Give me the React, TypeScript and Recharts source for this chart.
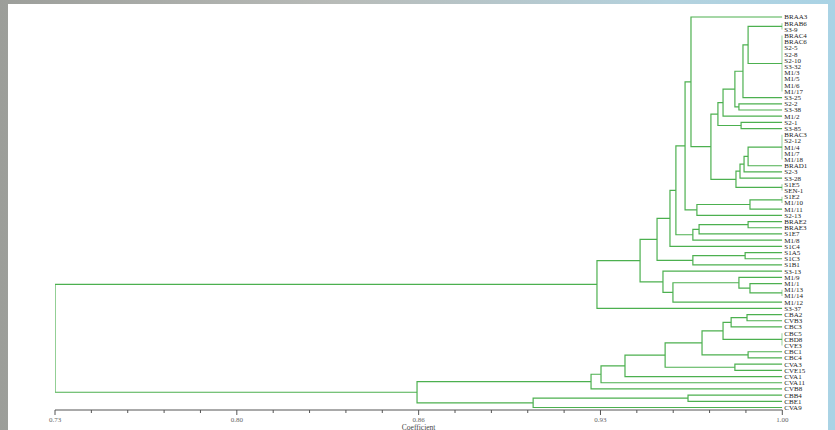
import React from 'react';
import { ComposedChart, Line, XAxis, YAxis } from 'recharts';

// Leaves, top to bottom
const leafLabels: string[] = [
  'BRAA3', 'BRAB6', 'S3-9', 'BRAC4', 'BRAC6', 'S2-5', 'S2-8', 'S2-10', 'S3-32', 'M1/3',
  'M1/5', 'M1/6', 'M1/17', 'S3-25', 'S2-2', 'S3-38', 'M1/2', 'S2-1', 'S3-85', 'BRAC3',
  'S2-12', 'M1/4', 'M1/7', 'M1/18', 'BRAD1', 'S2-3', 'S3-28', 'S1E5', 'SEN-1', 'S1E2',
  'M1/10', 'M1/11', 'S2-13', 'BRAE2', 'BRAE3', 'S1E7', 'M1/8', 'S1C4', 'S1A5', 'S1C3',
  'S1B1', 'S3-13', 'M1/9', 'M1/1', 'M1/13', 'M1/14', 'M1/12', 'S3-37', 'CBA2', 'CVB3',
  'CBC3', 'CBC5', 'CBD8', 'CVE3', 'CBC1', 'CBC4', 'CVA3', 'CVE15', 'CVA1', 'CVA11',
  'CVB8', 'CBB4', 'CBE1', 'CVA9',
];

// Cluster merges: [node id, members (leaf labels or node ids), similarity coefficient]
const merges: [string, string[], number][] = [
  ['n1', ['BRAB6', 'S3-9'], 1.0],
  ['n2', ['BRAC4', 'BRAC6', 'S2-5', 'S2-8', 'S2-10', 'S3-32', 'M1/3', 'M1/5', 'M1/6', 'M1/17'], 1.0],
  ['n3', ['n1', 'n2'], 0.9873],
  ['n4', ['n3', 'S3-25'], 0.9854],
  ['n5', ['S2-2', 'S3-38'], 0.9839],
  ['n6', ['n4', 'n5'], 0.9824],
  ['n7', ['n6', 'M1/2'], 0.978],
  ['n8', ['S2-1', 'S3-85'], 0.9847],
  ['n9', ['n7', 'n8'], 0.9761],
  ['n10', ['BRAC3', 'S2-12', 'M1/4', 'M1/7', 'M1/18'], 1.0],
  ['n11', ['n10', 'BRAD1'], 0.9873],
  ['n12', ['n11', 'S2-3'], 0.9858],
  ['n13', ['n12', 'S3-28'], 0.9843],
  ['n14', ['S1E5', 'SEN-1'], 1.0],
  ['n15', ['n13', 'n14'], 0.9828],
  ['n16', ['n9', 'n15'], 0.9735],
  ['n17', ['BRAA3', 'n16'], 0.9661],
  ['n18', ['S1E2', 'M1/10'], 1.0],
  ['n19', ['n18', 'M1/11'], 0.988],
  ['n20', ['n19', 'S2-13'], 0.9683],
  ['n21', ['n17', 'n20'], 0.9639],
  ['n22', ['BRAE2', 'BRAE3'], 0.9873],
  ['n23', ['n22', 'S1E7'], 0.9691],
  ['n24', ['n23', 'M1/8'], 0.9668],
  ['n25', ['n21', 'n24'], 0.9605],
  ['n26', ['n25', 'S1C4'], 0.9583],
  ['n27', ['S1A5', 'S1C3'], 0.9862],
  ['n28', ['n27', 'S1B1'], 0.9668],
  ['n29', ['n26', 'n28'], 0.9535],
  ['n30', ['M1/13', 'M1/14'], 1.0],
  ['n31', ['M1/1', 'n30'], 0.988],
  ['n32', ['M1/9', 'n31'], 0.9839],
  ['n33', ['n32', 'M1/12'], 0.9594],
  ['n34', ['S3-13', 'n33'], 0.9557],
  ['n35', ['n29', 'n34'], 0.9472],
  ['n36', ['n35', 'S3-37'], 0.9312],
  ['n37', ['CBA2', 'CVB3'], 0.9869],
  ['n38', ['n37', 'CBC3'], 0.981],
  ['n39', ['CBC5', 'CBD8', 'CVE3'], 1.0],
  ['n40', ['n38', 'n39'], 0.978],
  ['n41', ['CBC1', 'CBC4'], 0.9873],
  ['n42', ['n40', 'n41'], 0.9702],
  ['n43', ['CVA3', 'CVE15'], 0.9824],
  ['n44', ['n42', 'n43'], 0.9565],
  ['n45', ['n44', 'CVA1'], 0.9416],
  ['n46', ['n45', 'CVA11'], 0.9327],
  ['n47', ['n46', 'CVB8'], 0.929],
  ['n48', ['CBB4', 'CBE1'], 0.965],
  ['n49', ['n48', 'CVA9'], 0.9075],
  ['n50', ['n47', 'n49'], 0.8644],
  ['root', ['n36', 'n50'], 0.73],
];

const majorTicks: number[] = [0.73, 0.7975, 0.865, 0.9325, 1.0];
const majorTickLabels: string[] = ['0.73', '0.80', '0.86', '0.93', '1.00'];
const minorPerMajor = 5;

const LINE_COLOR = '#4cb04f';
const TEXT_FONT = '"Liberation Serif", "DejaVu Serif", serif';

type Pos = { x: number; y: number };

function buildLinks(): Pos[][] {
  const pos: Record<string, Pos> = {};
  leafLabels.forEach((l, i) => {
    pos[l] = { x: 1.0, y: i + 1 };
  });
  const links: Pos[][] = [];
  merges.forEach(([id, kids, h]) => {
    const first = pos[kids[0]];
    const last = pos[kids[kids.length - 1]];
    links.push([
      { x: first.x, y: first.y },
      { x: h, y: first.y },
      { x: h, y: last.y },
      { x: last.x, y: last.y },
    ]);
    kids.slice(1, -1).forEach((k) => {
      const p = pos[k];
      if (p.x !== h) links.push([{ x: p.x, y: p.y }, { x: h, y: p.y }]);
    });
    pos[id] = { x: h, y: (first.y + last.y) / 2 };
  });
  return links;
}

const links = buildLinks();

const allTicks: number[] = (() => {
  const t: number[] = [];
  for (let i = 0; i < majorTicks.length - 1; i++) {
    const a = majorTicks[i];
    const b = majorTicks[i + 1];
    for (let k = 0; k < minorPerMajor; k++) t.push(a + ((b - a) * k) / minorPerMajor);
  }
  t.push(majorTicks[majorTicks.length - 1]);
  return t;
})();

const AxisTick = (props: any) => {
  const { x, y, payload } = props;
  const idx = majorTicks.findIndex((m) => Math.abs(m - payload.value) < 1e-6);
  const major = idx >= 0;
  return (
    <g>
      <line x1={x} x2={x} y1={y} y2={y + (major ? 5 : 3)} stroke="#555" strokeWidth={1} />
      {major && (
        <text x={x} y={y + 12} textAnchor="middle" fontSize={7} fill="#666" fontFamily={TEXT_FONT}>
          {majorTickLabels[idx]}
        </text>
      )}
    </g>
  );
};

export default function App() {
  return (
    <div
      style={{
        position: 'absolute',
        left: 0,
        top: 0,
        width: 835,
        height: 430,
        overflow: 'hidden',
        background: 'linear-gradient(90deg, #9c9e9a 0%, #b8bbb8 40%, #b4d2de 80%, #a9d3e5 100%)',
      }}
    >
      <div
        style={{
          position: 'absolute',
          left: 8,
          top: 4,
          width: 820,
          height: 426,
          background: '#ffffff',
        }}
      />
      <div style={{ position: 'absolute', left: 0, top: 0 }}>
        <ComposedChart
          width={835}
          height={430}
          margin={{ top: 10.8, right: 0, bottom: 0, left: 55 }}
        >
          <XAxis
            type="number"
            dataKey="x"
            domain={[0.73, 1.0]}
            allowDataOverflow
            ticks={allTicks}
            interval={0}
            tick={<AxisTick />}
            tickLine={false}
            tickSize={0}
            tickMargin={0}
            height={20}
            axisLine={{ stroke: '#555', strokeWidth: 1 }}
            label={{
              value: 'Coefficient',
              position: 'insideBottom',
              offset: 0.5,
              fontSize: 7.5,
              fill: '#444',
              fontFamily: TEXT_FONT,
            }}
          />
          <YAxis
            type="number"
            orientation="right"
            domain={[0, 64.4]}
            reversed
            allowDataOverflow
            ticks={leafLabels.map((_, i) => i + 1)}
            interval={0}
            tickFormatter={(v: number) => leafLabels[v - 1] ?? ''}
            tickLine={false}
            axisLine={false}
            tickSize={0}
            tickMargin={2}
            width={52.7}
            tick={{ fontSize: 7, fill: '#222', fontFamily: TEXT_FONT }}
          />
          {links.map((pts, i) => (
            <Line
              key={i}
              data={pts}
              dataKey="y"
              type="linear"
              stroke={LINE_COLOR}
              strokeWidth={1.2}
              dot={false}
              activeDot={false}
              isAnimationActive={false}
            />
          ))}
        </ComposedChart>
      </div>
    </div>
  );
}
